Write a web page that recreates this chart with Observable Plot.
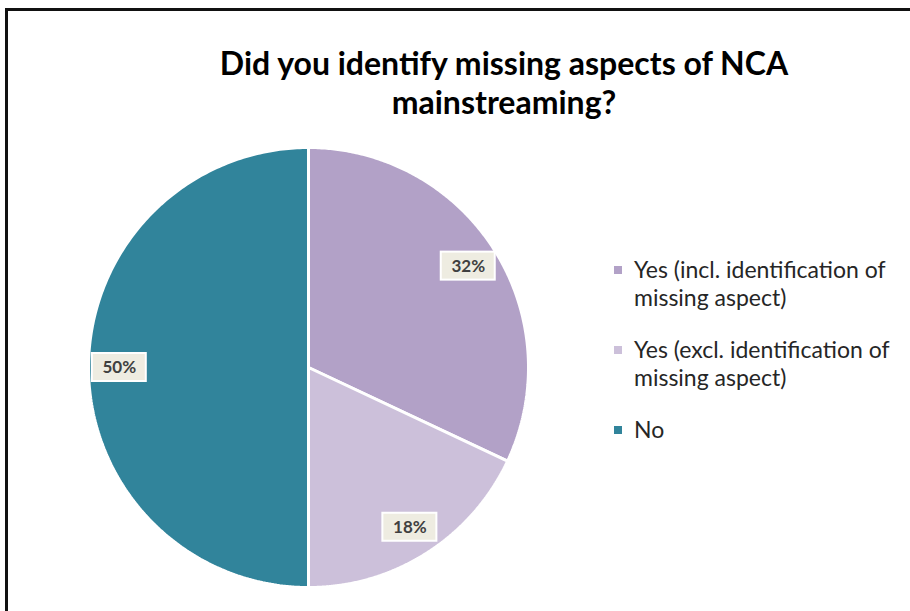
<!DOCTYPE html>
<html><head><meta charset="utf-8">
<script src="https://cdn.jsdelivr.net/npm/d3@7"></script>
<script src="https://cdn.jsdelivr.net/npm/@observablehq/plot@0.6"></script>
<style>
html,body{margin:0;padding:0;background:#fff;width:910px;height:611px;overflow:hidden;}
#wrap{position:relative;width:910px;height:611px;}
#frame{position:absolute;left:5px;top:8px;width:910px;height:620px;border-top:3px solid #111;border-left:3px solid #111;box-sizing:border-box;}
#title{position:absolute;left:0;width:1008px;top:43px;text-align:center;font-family:Lato,"Open Sans",sans-serif;font-weight:bold;font-size:32px;line-height:39px;color:#000;}
#chart{position:absolute;left:0;top:0;}
#legend{position:absolute;left:614px;top:256px;font-family:Lato,"Open Sans",sans-serif;font-size:23px;line-height:27.5px;color:#262626;}
.item{position:relative;padding-left:20px;margin-bottom:25px;white-space:nowrap;}
.sw{position:absolute;left:0;top:10px;width:8px;height:8px;}
</style></head>
<body><div id="wrap"><div id="frame"></div><div id="chart"></div>
<div id="title">Did you identify missing aspects of NCA<br>mainstreaming?</div>
<div id="legend"></div></div>
<script>
const categories = ["Yes (incl. identification of missing aspect)", "Yes (excl. identification of missing aspect)", "No"];
const legendLines = [["Yes (incl. identification of", "missing aspect)"], ["Yes (excl. identification of", "missing aspect)"], ["No"]];
const values = [32, 18, 50];
const labels = ["32%", "18%", "50%"];
const colors = ["#b2a1c7", "#ccc0da", "#31849b"];

const arcs = d3.pie().sort(null).value(d => d.value)(categories.map((c, i) => ({key: c, value: values[i], label: labels[i]})));
const pts = [];
for (const a of arcs) {
  pts.push({key: a.data.key, x: 0, y: 0});
  const n = 240;
  for (let k = 0; k <= n; k++) {
    const t = a.startAngle + (a.endAngle - a.startAngle) * k / n;
    pts.push({key: a.data.key, x: Math.sin(t), y: Math.cos(t)});
  }
  pts.push({key: a.data.key, x: 0, y: 0});
}
const R = 220, lr = 0.86;
const lab = arcs.map(a => {
  const m = (a.startAngle + a.endAngle) / 2;
  return {key: a.data.key, label: a.data.label, x: lr * Math.sin(m), y: lr * Math.cos(m)};
});
const hw = 27 / R, hh = 14 / R;

const chart = Plot.plot({
  width: 910, height: 611,
  margin: 0,
  x: {domain: [-1, 1], range: [88, 528], axis: null},
  y: {domain: [-1, 1], range: [587, 147], axis: null},
  color: {domain: categories, range: colors},
  marks: [
    Plot.line(pts, {x: "x", y: "y", z: "key", fill: "key", stroke: "white", strokeWidth: 3, strokeLinejoin: "miter"}),
    Plot.rect(lab, {x1: d => d.x - hw, x2: d => d.x + hw, y1: d => d.y - hh, y2: d => d.y + hh, fill: "#eeece1", stroke: "white", strokeWidth: 2}),
    Plot.text(lab, {x: "x", y: "y", text: "label", fill: "#404040", fontSize: 17, fontWeight: "bold", fontFamily: "Lato, 'Open Sans', sans-serif"})
  ]
});
document.getElementById("chart").appendChild(chart);

const leg = document.getElementById("legend");
legendLines.forEach((lines, i) => {
  const d = document.createElement("div");
  d.className = "item";
  d.innerHTML = `<span class="sw" style="background:${colors[i]}"></span>` + lines.join("<br>");
  leg.appendChild(d);
});
</script></body></html>
